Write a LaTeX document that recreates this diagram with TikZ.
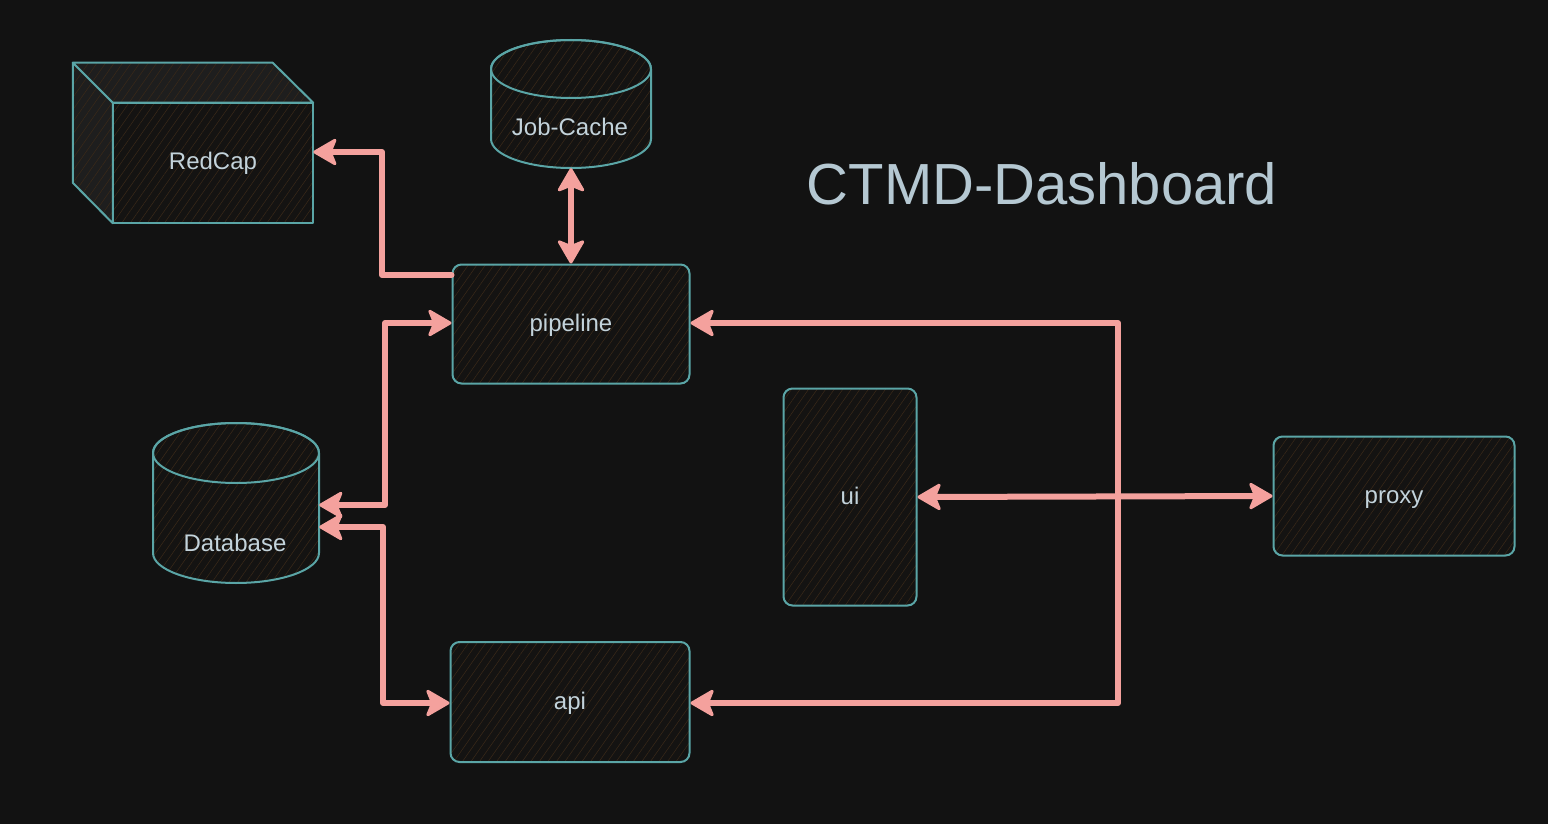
\documentclass[tikz,border=0pt]{standalone}
\usepackage{fontspec}
\setmainfont{Liberation Sans}
\usetikzlibrary{arrows.meta,patterns.meta}
\definecolor{bgdark}{HTML}{121212}
\definecolor{tealline}{HTML}{5AA5A6}
\definecolor{salmon}{HTML}{F4A19D}
\definecolor{hatch}{HTML}{3B2A19}
\definecolor{boxfill}{HTML}{141312}
\definecolor{sidefill}{HTML}{1E1E1E}
\definecolor{labeltext}{HTML}{C3D3DB}
\definecolor{titletext}{HTML}{B5C8D2}
\tikzset{
  hatched/.style={preaction={fill=#1},
    pattern={Lines[angle=55,distance=7pt,line width=0.5pt]},pattern color=hatch},
  outline/.style={draw=tealline,line width=2pt,line join=round},
  block/.style={outline,rounded corners=9pt,hatched=boxfill,
    text=labeltext,font=\fontsize{24}{26}\selectfont,text height=17pt,text depth=3pt},
  lbl/.style={text=labeltext,font=\fontsize{24}{26}\selectfont},
  headtip/.tip={Stealth[length=26pt,width=30pt,inset=6pt,round,line width=3pt]},
  link/.style={draw=salmon,line width=6pt,line cap=round,line join=round,headtip-headtip},
  onelink/.style={draw=salmon,line width=6pt,line cap=round,line join=round,-headtip}
}
\begin{document}
\begin{tikzpicture}[x=1pt,y=-1pt]
  \fill[bgdark] (0,0) rectangle (1548,824);
  \useasboundingbox (0,0) rectangle (1548,824);

  % 3d box
  \node (redcap) [block,rounded corners=0pt,minimum width=200pt,minimum height=120pt] at (213,163) {RedCap};
  \draw[outline,hatched=sidefill]
    (redcap.north west) -- ++(-40,-40) -- ++(200,0) -- (redcap.north east) -- cycle;
  \draw[outline,hatched=sidefill]
    (redcap.north west) -- ++(-40,-40) -- ++(0,120) -- (redcap.south west) -- cycle;

  % stores
  \node (jobcache) [minimum width=160pt,minimum height=128pt] at (571,104) {};
  \draw[outline,hatched=boxfill] (491,69) -- (491,139) arc[start angle=180,end angle=0,x radius=80,y radius=29]
    -- (651,69) arc[start angle=0,end angle=-180,x radius=80,y radius=29] -- cycle;
  \draw[outline] (571,69) ellipse [x radius=80,y radius=29];
  \node (jobcachetext) [lbl] at (570,127) {Job-Cache};

  \node (database) [minimum width=166pt,minimum height=160pt] at (236,503) {};
  \draw[outline,hatched=boxfill] (153,453) -- (153,553) arc[start angle=180,end angle=0,x radius=83,y radius=30]
    -- (319,453) arc[start angle=0,end angle=-180,x radius=83,y radius=30] -- cycle;
  \draw[outline] (236,453) ellipse [x radius=83,y radius=30];
  \node (databasetext) [lbl] at (235,543) {Database};

  \node (pipeline) [block,minimum width=237pt,minimum height=119pt] at (571,324) {pipeline};
  \node (api)      [block,minimum width=239pt,minimum height=120pt] at (570,702) {api};
  \node (ui)       [block,minimum width=133pt,minimum height=217pt] at (850,497) {ui};
  \node (proxy)    [block,minimum width=241pt,minimum height=119pt] at (1394,496) {proxy};

  \node (title) [text=titletext,font=\fontsize{58}{60}\selectfont] at (1042,184) {CTMD-Dashboard};

  \coordinate (c1) at (1118,323);
  \coordinate (c2) at (1118,703);

  \draw[onelink] (pipeline.north west |- 0,275) -- (382,275) -- (382,152) -- (redcap.east |- 0,152);
  \draw[link] (jobcache.south) -- (pipeline.north);
  \draw[link] (database.east |- 0,505) -- (385,505) -- (385,323) -- (pipeline.west |- 0,323);
  \draw[link] (database.east |- 0,527) -- (383,527) -- (383,703) -- (api.west |- 0,703);
  \draw[link] (ui.east) -- (proxy.west);
  \draw[link] (pipeline.east |- c1) -- (c1) -- (c2) -- (api.east |- c2);
\end{tikzpicture}
\end{document}
